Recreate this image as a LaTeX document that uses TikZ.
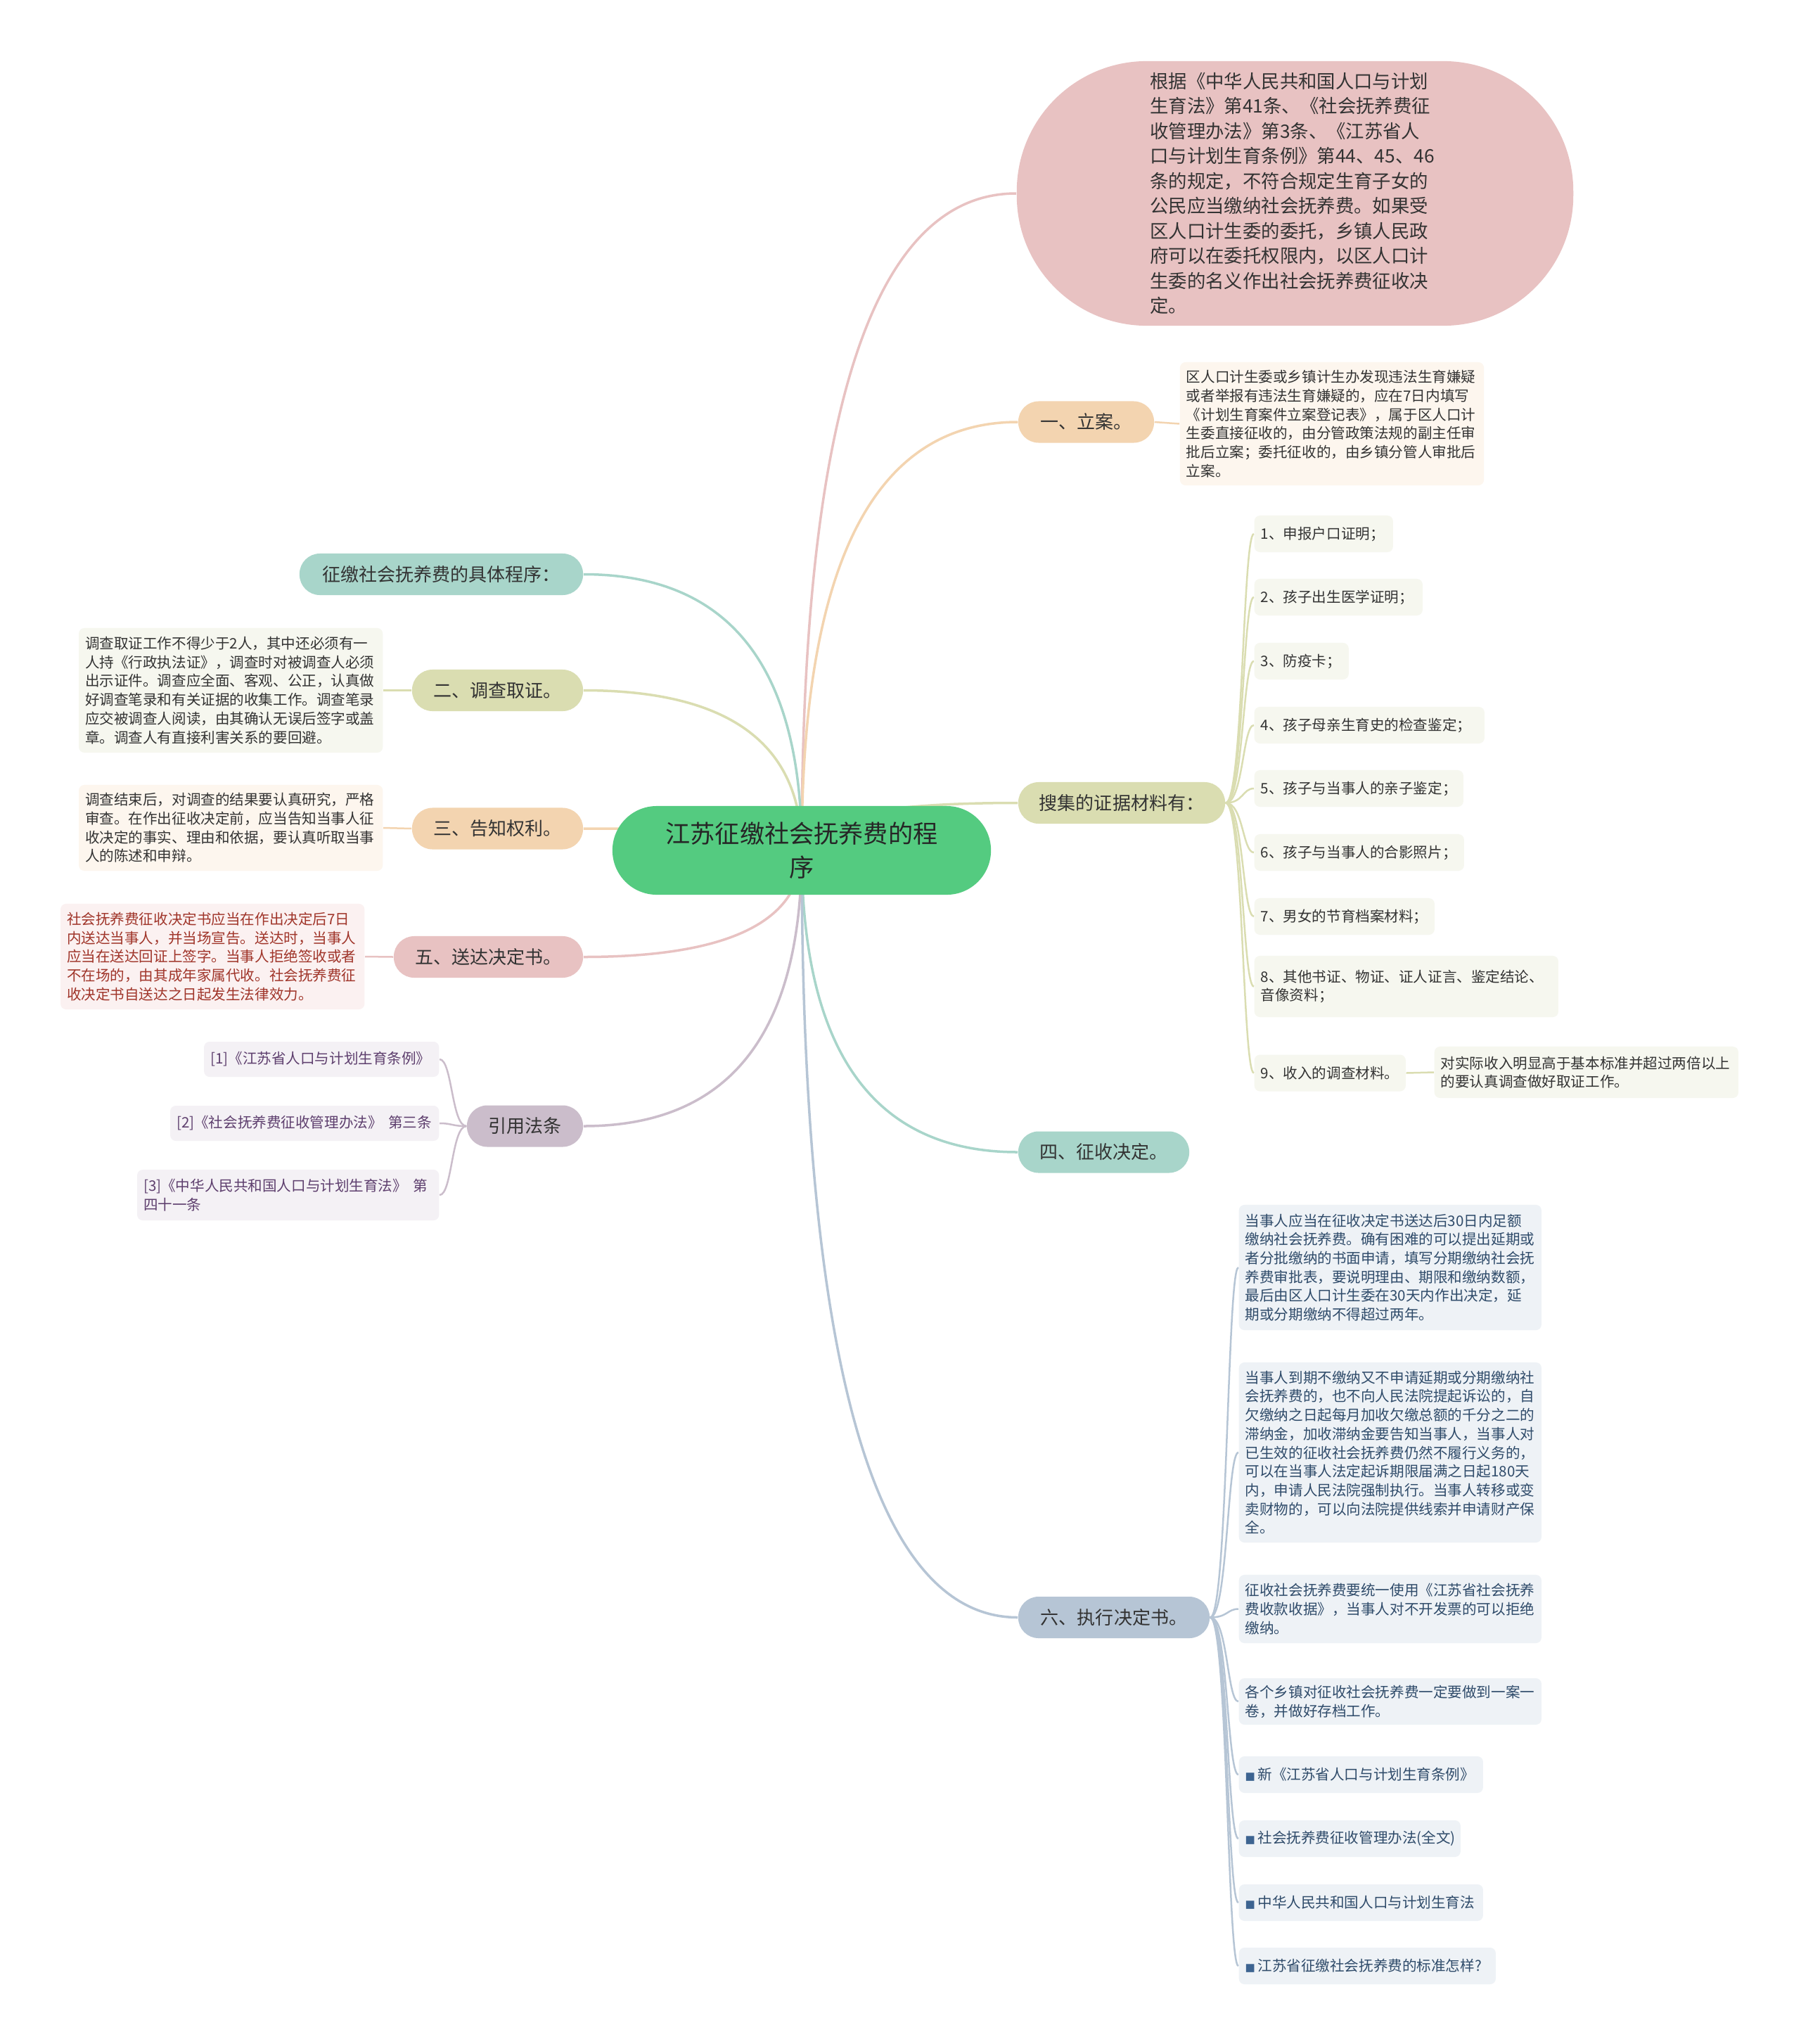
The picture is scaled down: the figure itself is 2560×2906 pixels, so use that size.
\documentclass[tikz,border=0pt]{standalone}
\usepackage{fontspec}
\setmainfont{Noto Sans CJK SC}
\newfontfamily\dejavu{DejaVu Sans}
\usetikzlibrary{calc,backgrounds}
\definecolor{cgreen}{HTML}{54CB80}
\definecolor{cpink}{HTML}{E8C2C2}
\definecolor{cpeach}{HTML}{F3D4B0}
\definecolor{colive}{HTML}{DADDB1}
\definecolor{cteal}{HTML}{A8D5CA}
\definecolor{cmauve}{HTML}{CBBDCB}
\definecolor{cblue}{HTML}{B6C5D5}
\definecolor{lpeach}{HTML}{FDF6EE}
\definecolor{lolive}{HTML}{F6F7EF}
\definecolor{lpink}{HTML}{FBF1F1}
\definecolor{lmauve}{HTML}{F4F1F5}
\definecolor{lblue}{HTML}{EEF2F6}
\definecolor{tdark}{HTML}{333333}
\definecolor{tred}{HTML}{A0352A}
\definecolor{tpurple}{HTML}{5E3F6E}
\definecolor{tblue}{HTML}{2F4B6A}
\definecolor{bul}{HTML}{3D6491}
\newcommand\mlk[2]{\draw[mainline,#2] (ctr.center) .. controls ($(ctr.center)!0.667!(ctr.center |- #1)$) and ($(#1)!0.667!(ctr.center |- #1)$) .. (#1);}
\newcommand\bulsq{{\dejavu\fontsize{4.3pt}{5pt}\selectfont\textcolor{bul}{■}}\,}
\begin{document}
\begin{tikzpicture}[x=0.01cm,y=-0.01cm,
  every node/.style={text=tdark},
  mainnode/.style={fill=cgreen, rounded corners=0.63cm, minimum width=5.38cm, minimum height=1.26cm, align=center, font=\fontsize{10pt}{13.7pt}\selectfont, text=black!85},
  branch/.style={rounded corners=0.29cm, minimum height=0.59cm, inner xsep=0.1cm, inner ysep=0pt, font=\fontsize{7.4pt}{9pt}\selectfont},
  detail/.style={rounded corners=0.08cm, inner xsep=0.09cm, inner ysep=0.05cm, align=left, font=\fontsize{5.85pt}{7.6pt}\selectfont},
  item/.style={detail, fill=lolive, anchor=west, minimum height=0.52cm},
  sixc/.style={detail, fill=lblue, anchor=west, text=tblue},
  refc/.style={detail, fill=lmauve, anchor=east, text=tpurple},
  mainline/.style={line width=0.035cm},
  subline/.style={line width=0.025cm},
]
\useasboundingbox (0,0) rectangle (2560,2906);

% central
\node[mainnode] (ctr) at (1140,1209) {江苏征缴社会抚养费的程\\序};

% top bubble
\node[fill=cpink, rounded corners=1.85cm, minimum width=7.91cm, minimum height=3.76cm, text width=4.12cm, align=left, font=\fontsize{7.5pt}{10.1pt}\selectfont] (law) at (1841.5,275) {根据《中华人民共和国人口与计划\\生育法》第41条、《社会抚养费征\\收管理办法》第3条、《江苏省人\\口与计划生育条例》第44、45、46\\条的规定，不符合规定生育子女的\\公民应当缴纳社会抚养费。如果受\\区人口计生委的委托，乡镇人民政\\府可以在委托权限内，以区人口计\\生委的名义作出社会抚养费征收决\\定。};

% right branches
\node[branch, fill=cpeach, minimum width=1.93cm] (b1) at (1544.5,600) {一、立案。};
\node[detail, fill=lpeach, text width=4.14cm, minimum height=1.75cm] (d1) at (1894,602.5) {区人口计生委或乡镇计生办发现违法生育嫌疑\\或者举报有违法生育嫌疑的，应在7日内填写\\《计划生育案件立案登记表》，属于区人口计\\生委直接征收的，由分管政策法规的副主任审\\批后立案；委托征收的，由乡镇分管人审批后\\立案。};

\node[branch, fill=colive, minimum width=2.94cm] (b2) at (1595,1141.5) {搜集的证据材料有：};
\node[item, text width=1.79cm] (i1) at (1783,759) {1、申报户口证明；};
\node[item, text width=2.21cm] (i2) at (1783,849) {2、孩子出生医学证明；};
\node[item, text width=1.16cm] (i3) at (1783,940) {3、防疫卡；};
\node[item, text width=3.09cm] (i4) at (1783,1031) {4、孩子母亲生育史的检查鉴定；};
\node[item, text width=2.79cm] (i5) at (1783,1121) {5、孩子与当事人的亲子鉴定；};
\node[item, text width=2.80cm] (i6) at (1783,1212) {6、孩子与当事人的合影照片；};
\node[item, text width=2.38cm] (i7) at (1783,1303) {7、男女的节育档案材料；};
\node[item, text width=4.14cm, minimum height=0.87cm] (i8) at (1783,1402.5) {8、其他书证、物证、证人证言、鉴定结论、\\音像资料；};
\node[item, text width=1.97cm] (i9) at (1783,1525.5) {9、收入的调查材料。};
\node[item, text width=4.14cm, minimum height=0.73cm] (i9d) at (2039,1524.5) {对实际收入明显高于基本标准并超过两倍以上\\的要认真调查做好取证工作。};

\node[branch, fill=cteal, minimum width=2.43cm] (b4) at (1569.5,1638) {四、征收决定。};

\node[branch, fill=cblue, minimum width=2.72cm] (b6) at (1584,2299.5) {六、执行决定书。};
\node[sixc, text width=4.12cm, minimum height=1.78cm] (c1) at (1761,1802) {当事人应当在征收决定书送达后30日内足额\\缴纳社会抚养费。确有困难的可以提出延期或\\者分批缴纳的书面申请，填写分期缴纳社会抚\\养费审批表，要说明理由、期限和缴纳数额，\\最后由区人口计生委在30天内作出决定，延\\期或分期缴纳不得超过两年。};
\node[sixc, text width=4.12cm, minimum height=2.56cm] (c2) at (1761,2065) {当事人到期不缴纳又不申请延期或分期缴纳社\\会抚养费的，也不向人民法院提起诉讼的，自\\欠缴纳之日起每月加收欠缴总额的千分之二的\\滞纳金，加收滞纳金要告知当事人，当事人对\\已生效的征收社会抚养费仍然不履行义务的，\\可以在当事人法定起诉期限届满之日起180天\\内，申请人民法院强制执行。当事人转移或变\\卖财物的，可以向法院提供线索并申请财产保\\全。};
\node[sixc, text width=4.12cm, minimum height=0.97cm] (c3) at (1761,2287.5) {征收社会抚养费要统一使用《江苏省社会抚养\\费收款收据》，当事人对不开发票的可以拒绝\\缴纳。};
\node[sixc, text width=4.12cm, minimum height=0.66cm] (c4) at (1761,2419) {各个乡镇对征收社会抚养费一定要做到一案一\\卷，并做好存档工作。};
\node[sixc, text width=3.29cm, minimum height=0.52cm] (c5) at (1761,2523) {\bulsq 新《江苏省人口与计划生育条例》};
\node[sixc, text width=2.97cm, minimum height=0.52cm] (c6) at (1761,2614) {\bulsq 社会抚养费征收管理办法(全文)};
\node[sixc, text width=3.29cm, minimum height=0.52cm] (c7) at (1761,2705) {\bulsq 中华人民共和国人口与计划生育法};
\node[sixc, text width=3.47cm, minimum height=0.52cm] (c8) at (1761,2795) {\bulsq 江苏省征缴社会抚养费的标准怎样?};

% left branches
\node[branch, fill=cteal, minimum width=4.03cm] (a1) at (627.5,816.5) {征缴社会抚养费的具体程序：};

\node[branch, fill=colive, minimum width=2.43cm] (a2) at (707.5,981.5) {二、调查取证。};
\node[detail, fill=lolive, anchor=east, text width=4.14cm, minimum height=1.77cm] (a2d) at (545,981.5) {调查取证工作不得少于2人，其中还必须有一\\人持《行政执法证》，调查时对被调查人必须\\出示证件。调查应全面、客观、公正，认真做\\好调查笔录和有关证据的收集工作。调查笔录\\应交被调查人阅读，由其确认无误后签字或盖\\章。调查人有直接利害关系的要回避。};

\node[branch, fill=cpeach, minimum width=2.43cm] (a3) at (707.5,1178) {三、告知权利。};
\node[detail, fill=lpeach, anchor=east, text width=4.14cm, minimum height=1.22cm] (a3d) at (545,1177) {调查结束后，对调查的结果要认真研究，严格\\审查。在作出征收决定前，应当告知当事人征\\收决定的事实、理由和依据，要认真听取当事\\人的陈述和申辩。};

\node[branch, fill=cpink, minimum width=2.69cm] (a5) at (694.5,1360.5) {五、送达决定书。};
\node[detail, fill=lpink, anchor=east, text=tred, text width=4.14cm, minimum height=1.50cm] (a5d) at (519,1360) {社会抚养费征收决定书应当在作出决定后7日\\内送达当事人，并当场宣告。送达时，当事人\\应当在送达回证上签字。当事人拒绝签收或者\\不在场的，由其成年家属代收。社会抚养费征\\收决定书自送达之日起发生法律效力。};

\node[branch, fill=cmauve, minimum width=1.65cm] (a7) at (746.5,1601) {引用法条};
\node[refc, text width=3.16cm, minimum height=0.50cm] (r1) at (625,1506) {[1]《江苏省人口与计划生育条例》};
\node[refc, text width=3.64cm, minimum height=0.50cm] (r2) at (625,1597) {[2]《社会抚养费征收管理办法》\hspace{0.4em}第三条};
\node[refc, text width=4.11cm, minimum height=0.72cm] (r3) at (625,1699) {[3]《中华人民共和国人口与计划生育法》\hspace{0.4em}第\\四十一条};

\begin{scope}[on background layer]
\fill[white] (0,0) rectangle (2560,2906);
\mlk{law.west}{cpink}
\mlk{b1.west}{cpeach}
\mlk{b2.west}{colive}
\mlk{b4.west}{cteal}
\mlk{b6.west}{cblue}
\mlk{a1.east}{cteal}
\mlk{a2.east}{colive}
\mlk{a3.east}{cpeach}
\mlk{a5.east}{cpink}
\mlk{a7.east}{cmauve}
\draw[subline,cpeach] (b1.east) -- (d1.west);
\foreach \k in {1,...,9} {
  \draw[subline,colive] (b2.east) .. controls ([xshift=0.25cm]b2.east) and ([xshift=-0.16cm]i\k.west) .. (i\k.west);
}
\draw[subline,colive] (i9.east) -- (i9d.west);
\foreach \k in {1,...,8} {
  \draw[subline,cblue] (b6.east) .. controls ([xshift=0.25cm]b6.east) and ([xshift=-0.16cm]c\k.west) .. (c\k.west);
}
\draw[subline,colive] (a2.west) -- (a2d.east);
\draw[subline,cpeach] (a3.west) -- (a3d.east);
\draw[subline,cpink] (a5.west) -- (a5d.east);
\foreach \k in {1,2,3} {
  \draw[subline,cmauve] (a7.west) .. controls ([xshift=-0.21cm]a7.west) and ([xshift=0.18cm]r\k.east) .. (r\k.east);
}
\end{scope}
\end{tikzpicture}
\end{document}
